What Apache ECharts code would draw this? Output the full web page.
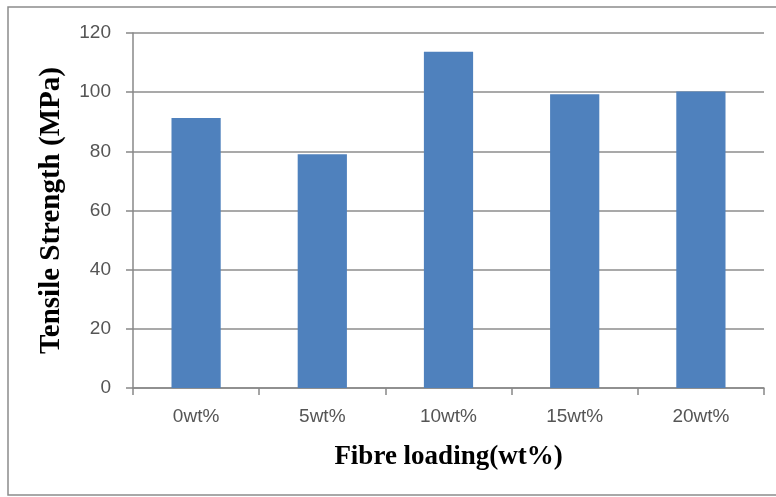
<!DOCTYPE html>
<html>
<head>
<meta charset="utf-8">
<script src="https://cdn.jsdelivr.net/npm/echarts@6/dist/echarts.min.js"></script>
<style>
html,body{margin:0;padding:0;background:#fff;}
#chart{width:776px;height:497px;}
</style>
</head>
<body>
<div id="chart"></div>
<script>
const categories = ['0wt%', '5wt%', '10wt%', '15wt%', '20wt%'];
const tensileStrength = [91.3, 79.0, 113.7, 99.3, 100.2];
const yTicks = { min: 0, max: 120, interval: 20 };

const chart = echarts.init(document.getElementById('chart'));
chart.setOption({
  animation: false,
  backgroundColor: '#fff',
  graphic: [{
    type: 'rect',
    shape: { x: 8, y: 7, width: 800, height: 488 },
    style: { fill: 'none', stroke: '#8c8c8c', lineWidth: 1.5 },
    silent: true
  }],
  grid: { left: 133, right: 12, top: 33, bottom: 109, containLabel: false },
  xAxis: {
    type: 'category',
    data: categories,
    name: 'Fibre loading(wt%)',
    nameLocation: 'middle',
    nameGap: 56,
    nameTextStyle: { fontFamily: 'Liberation Serif', fontWeight: 'bold', fontSize: 27, color: '#000' },
    axisLine: { show: true, lineStyle: { color: '#888', width: 1.5 } },
    axisTick: { show: true, alignWithLabel: false, length: 7, lineStyle: { color: '#888', width: 1.5 } },
    axisLabel: { fontFamily: 'Liberation Sans', fontSize: 19, color: '#555', margin: 19 },
    splitLine: { show: false }
  },
  yAxis: {
    type: 'value',
    min: yTicks.min,
    max: yTicks.max,
    interval: yTicks.interval,
    name: 'Tensile Strength (MPa)',
    nameLocation: 'middle',
    nameGap: 67,
    nameTextStyle: { fontFamily: 'Liberation Serif', fontWeight: 'bold', fontSize: 29, color: '#000' },
    axisLine: { show: true, lineStyle: { color: '#888', width: 1.5 } },
    axisTick: { show: true, length: 7, lineStyle: { color: '#888', width: 1.5 } },
    axisLabel: { fontFamily: 'Liberation Sans', fontSize: 19, color: '#555', margin: 22 },
    splitLine: { show: true, lineStyle: { color: '#8c8c8c', width: 1.5 } }
  },
  series: [{
    type: 'bar',
    data: tensileStrength,
    barWidth: '39%',
    itemStyle: { color: '#4F81BD' }
  }]
});
</script>
</body>
</html>
